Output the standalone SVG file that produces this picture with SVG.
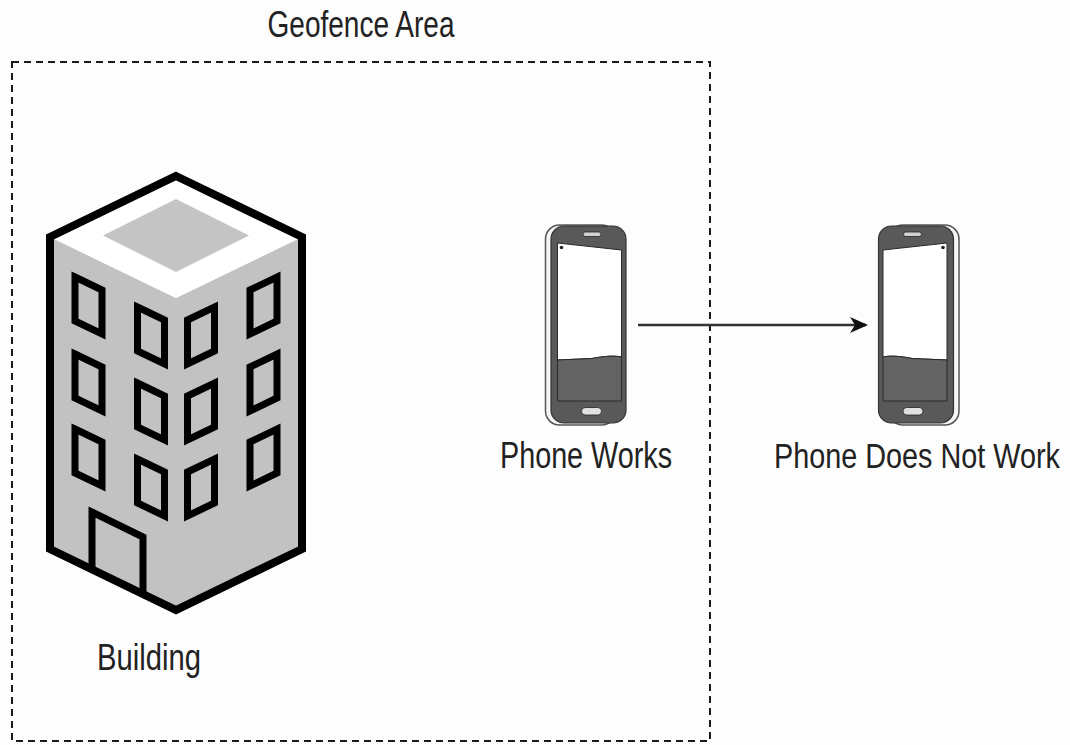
<svg xmlns="http://www.w3.org/2000/svg" width="1070" height="745" viewBox="0 0 1070 745">
  <style>
    .label { font-family: "Liberation Sans", Arial, sans-serif; font-size: 36px; fill: #222; }
    .fence { fill: none; stroke: #1a1a1a; stroke-width: 2; stroke-dasharray: 7 5; }
    .outline { fill: none; stroke: #000; stroke-width: 8; stroke-linejoin: miter; }
    .win { fill: #c2c2c2; stroke: #000; stroke-width: 7; stroke-linejoin: miter; }
    .link { stroke: #333; stroke-width: 2.5; fill: none; }
  </style>
  <defs>
    <!-- window on the left (descending) and right (ascending) faces -->
    <path id="winL" d="M0,0 L27,13 V57 L0,44 Z"/>
    <path id="winR" d="M0,13 L27,0 V44 L0,57 Z"/>
    <!-- smartphone, side edge on the left -->
    <g id="phone">
      <rect x="545.5" y="225" width="70" height="200" rx="14" fill="#f6f6f6" stroke="#555" stroke-width="1.5"/>
      <rect x="551" y="226" width="75" height="197" rx="13" fill="#595959" stroke="#333" stroke-width="1.2"/>
      <path d="M557.5,243 L621.5,250 L621.5,357 C612,355 600,357 592,358.5 L557.5,360 Z" fill="#fff" stroke="#2a2a2a" stroke-width="1"/>
      <path d="M557.5,360 L592,358.5 C600,357 612,355 621.5,357 L621.5,401 L557.5,401 Z" fill="#636363" stroke="#2a2a2a" stroke-width="1"/>
      <rect x="583" y="232" width="18" height="4.5" rx="2.2" fill="#d0d0d0" stroke="#222" stroke-width="0.8"/>
      <rect x="581.5" y="407.5" width="20" height="7.5" rx="3.7" fill="#e0e0e0" stroke="#222" stroke-width="0.8"/>
      <circle cx="561.5" cy="247.5" r="1.8" fill="#222"/>
    </g>
    <marker id="arrow" markerUnits="userSpaceOnUse" markerWidth="18" markerHeight="16" refX="16" refY="8" orient="auto">
      <path d="M0,0 L18,8 L0,16 L5,8 Z" fill="#111"/>
    </marker>
  </defs>

  <rect x="0" y="0" width="1070" height="745" fill="#fdfdfd"/>

  <!-- geofence boundary -->
  <g id="geofence">
    <rect class="fence" x="12" y="62" width="698" height="679"/>
    <text class="label" x="361" y="37" text-anchor="middle" textLength="187" lengthAdjust="spacingAndGlyphs">Geofence Area</text>
  </g>

  <!-- building -->
  <g id="building">
    <polygon points="176,298 302,237 302,549 176,610 50,549 50,237" fill="#c2c2c2"/>
    <polygon points="176,176 302,237 176,298 50,237" fill="#fff"/>
    <polygon points="176,199 249,235.5 176,272 103,235.5" fill="#c4c4c4"/>
    <use href="#winL" class="win" x="75" y="277"/>
    <use href="#winL" class="win" x="75" y="354"/>
    <use href="#winL" class="win" x="75" y="429"/>
    <use href="#winL" class="win" x="137.5" y="307"/>
    <use href="#winL" class="win" x="137.5" y="383"/>
    <use href="#winL" class="win" x="137.5" y="459"/>
    <use href="#winR" class="win" x="187.5" y="307"/>
    <use href="#winR" class="win" x="187.5" y="383"/>
    <use href="#winR" class="win" x="187.5" y="459"/>
    <use href="#winR" class="win" x="250" y="277"/>
    <use href="#winR" class="win" x="250" y="354"/>
    <use href="#winR" class="win" x="250" y="429"/>
    <path d="M92,571 V512 L143,537 V596" fill="none" stroke="#000" stroke-width="7"/>
    <polygon class="outline" points="176,176 302,237 302,549 176,610 50,549 50,237"/>
    <text class="label" x="149" y="670" text-anchor="middle" textLength="104" lengthAdjust="spacingAndGlyphs">Building</text>
  </g>

  <!-- phone inside the fence -->
  <g id="phone-works">
    <use href="#phone"/>
    <text class="label" x="586" y="468" text-anchor="middle" textLength="172" lengthAdjust="spacingAndGlyphs">Phone Works</text>
  </g>

  <!-- phone outside the fence (mirrored) -->
  <g id="phone-not-working">
    <use href="#phone" transform="translate(1504.5,0) scale(-1,1)"/>
    <text class="label" transform="translate(917,468) scale(0.8,1)" x="0" y="0" text-anchor="middle">Phone Does Not Work</text>
  </g>

  <g id="connectors">
    <line class="link" x1="638" y1="325" x2="866" y2="325" marker-end="url(#arrow)"/>
  </g>
</svg>
